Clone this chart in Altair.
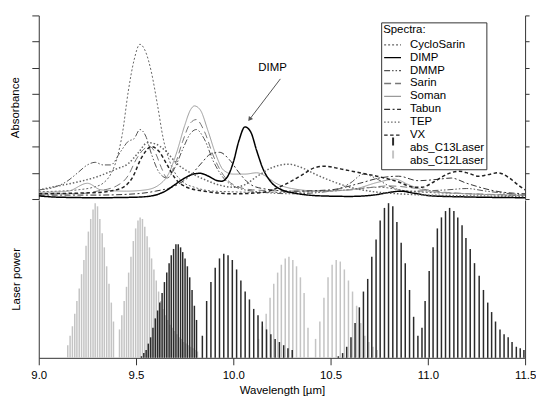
import altair as alt
import pandas as pd

FONT = "Liberation Sans"

SERIES = ["CycloSarin", "DIMP", "DMMP", "Sarin", "Soman", "Tabun", "TEP", "VX"]
LASERS = ["abs_C13Laser", "abs_C12Laser"]
BOLD_SERIES = ["DIMP", "TEP", "VX"]

X_TICKS = [9.0, 9.5, 10.0, 10.5, 11.0, 11.5]
ABS_TICKS = [0, 1, 2, 3, 4, 5, 6, 7]

# ---- absorbance spectra (wavelength in um, absorbance in arbitrary units) ----
CYCLOSARIN_WL = [9.00, 9.10, 9.20, 9.28, 9.33, 9.37, 9.40, 9.43, 9.46, 9.49, 9.52, 9.55, 9.58,
                 9.61, 9.64, 9.67, 9.70, 9.74, 9.80, 9.90, 10.20, 10.50, 10.75, 10.90, 11.20, 11.50]
CYCLOSARIN_ABS = [0.28, 0.30, 0.35, 0.45, 0.60, 0.95, 1.50, 2.50, 4.10, 5.30, 5.90, 5.60, 4.80,
                  3.60, 2.30, 1.50, 1.00, 0.65, 0.45, 0.30, 0.25, 0.30, 0.45, 0.30, 0.20, 0.12]

DIMP_WL = [9.00, 9.10, 9.30, 9.50, 9.58, 9.65, 9.70, 9.75, 9.80, 9.83, 9.87, 9.91, 9.94, 9.97,
           10.00, 10.03, 10.06, 10.09, 10.12, 10.15, 10.20, 10.25, 10.32, 10.45, 10.60, 10.72,
           10.80, 10.86, 10.93, 11.02, 11.20, 11.50]
DIMP_ABS = [0.12, 0.07, 0.05, 0.07, 0.12, 0.30, 0.55, 0.80, 0.96, 0.98, 0.88, 0.72, 0.68, 0.85,
            1.40, 2.25, 2.75, 2.55, 1.85, 1.20, 0.60, 0.35, 0.22, 0.12, 0.10, 0.15,
            0.25, 0.30, 0.22, 0.12, 0.08, 0.05]

DMMP_WL = [9.00, 9.08, 9.15, 9.20, 9.25, 9.29, 9.33, 9.37, 9.42, 9.46, 9.49, 9.52, 9.55, 9.58,
           9.62, 9.66, 9.70, 9.74, 9.78, 9.81, 9.85, 9.90, 9.95, 10.00, 10.10, 10.30, 10.50,
           10.60, 10.67, 10.73, 10.80, 10.90, 11.10, 11.20, 11.30, 11.50]
DMMP_ABS = [0.35, 0.45, 0.70, 1.00, 1.30, 1.40, 1.30, 1.30, 1.80, 2.20, 2.30, 2.65, 2.40, 1.70,
            1.00, 0.80, 1.20, 1.90, 2.50, 2.65, 2.30, 1.40, 0.80, 0.50, 0.30, 0.20, 0.30,
            0.60, 0.95, 0.80, 0.50, 0.30, 0.35, 0.40, 0.30, 0.15]

SARIN_WL = [9.00, 9.20, 9.30, 9.40, 9.46, 9.50, 9.54, 9.57, 9.60, 9.63, 9.66, 9.70, 9.74, 9.78,
            9.81, 9.85, 9.90, 9.95, 10.00, 10.10, 10.30, 10.60, 10.80, 10.95, 11.10, 11.50]
SARIN_ABS = [0.20, 0.20, 0.30, 0.50, 0.90, 1.50, 1.90, 2.00, 1.75, 1.20, 0.80, 1.30, 2.20, 2.90,
             3.03, 2.60, 1.60, 0.90, 0.55, 0.35, 0.30, 0.35, 0.50, 0.40, 0.25, 0.15]

SOMAN_WL = [9.00, 9.15, 9.25, 9.32, 9.45, 9.55, 9.62, 9.67, 9.71, 9.75, 9.78, 9.80, 9.83, 9.87,
            9.91, 9.95, 10.00, 10.06, 10.12, 10.16, 10.22, 10.30, 10.45, 10.60, 10.75, 10.83,
            10.90, 11.00, 11.20, 11.50]
SOMAN_ABS = [0.25, 0.30, 0.60, 0.35, 0.30, 0.35, 0.55, 1.00, 1.80, 2.80, 3.40, 3.55, 3.40, 2.60,
             1.70, 1.10, 0.95, 0.95, 1.00, 0.90, 0.60, 0.40, 0.30, 0.35, 0.65, 0.76,
             0.55, 0.30, 0.20, 0.15]

TABUN_WL = [9.00, 9.30, 9.50, 9.60, 9.70, 9.78, 9.84, 9.88, 9.93, 9.98, 10.03, 10.08, 10.15,
            10.30, 10.50, 10.65, 10.75, 10.85, 10.95, 11.05, 11.12, 11.20, 11.35, 11.50]
TABUN_ABS = [0.15, 0.15, 0.20, 0.30, 0.50, 0.90, 1.40, 1.70, 1.78, 1.50, 1.00, 0.60, 0.40,
             0.30, 0.35, 0.60, 0.80, 0.87, 0.70, 0.75, 0.80, 0.60, 0.30, 0.20]

TEP_WL = [9.00, 9.10, 9.20, 9.30, 9.40, 9.46, 9.51, 9.56, 9.60, 9.65, 9.71, 9.78, 9.85, 9.92,
          10.00, 10.06, 10.12, 10.20, 10.28, 10.35, 10.42, 10.50, 10.60, 10.70, 10.85, 11.00, 11.50]
TEP_ABS = [0.35, 0.50, 0.65, 0.85, 1.15, 1.35, 1.75, 2.15, 2.10, 1.85, 1.35, 1.00, 0.75, 0.55,
           0.45, 0.55, 0.85, 1.20, 1.33, 1.20, 0.95, 0.70, 0.45, 0.30, 0.20, 0.15, 0.10]

VX_WL = [9.00, 9.30, 9.42, 9.48, 9.53, 9.58, 9.62, 9.66, 9.70, 9.76, 9.85, 10.00, 10.15, 10.25,
         10.35, 10.42, 10.47, 10.55, 10.65, 10.75, 10.85, 10.93, 10.97, 11.03, 11.10, 11.16,
         11.21, 11.26, 11.31, 11.36, 11.42, 11.47, 11.50]
VX_ABS = [0.20, 0.25, 0.40, 0.80, 1.60, 2.00, 1.80, 1.30, 0.80, 0.45, 0.30, 0.20, 0.25, 0.50,
          0.90, 1.20, 1.25, 1.15, 1.00, 0.85, 0.65, 0.45, 0.45, 0.65, 0.95, 1.06,
          0.98, 0.87, 0.93, 1.00, 0.80, 0.50, 0.35]

# ---- laser lines (wavelength in um, relative power) ----
C12_WL = [9.149, 9.161, 9.173, 9.185, 9.196, 9.208, 9.220, 9.232, 9.243, 9.255, 9.267, 9.279,
          9.290, 9.302, 9.314, 9.326, 9.337, 9.349, 9.361, 9.373, 9.384,
          9.415, 9.427, 9.439, 9.451, 9.462, 9.474, 9.486, 9.498, 9.510, 9.521, 9.533, 9.545,
          9.557, 9.569, 9.580, 9.592, 9.604, 9.616, 9.627, 9.639, 9.651, 9.663, 9.675, 9.686,
          9.698, 9.710, 9.722, 9.734, 9.745, 9.757, 9.769, 9.781, 9.793, 9.804, 9.816,
          10.130, 10.150, 10.169, 10.189, 10.208, 10.228, 10.247, 10.267, 10.286, 10.306,
          10.325, 10.345, 10.364, 10.384,
          10.423, 10.445, 10.466, 10.487, 10.508, 10.529, 10.550, 10.571, 10.592, 10.613,
          10.634, 10.655, 10.676, 10.697, 10.718, 10.739]
C12_POWER = [0.08, 0.14, 0.20, 0.28, 0.36, 0.44, 0.53, 0.62, 0.71, 0.80, 0.88, 0.94,
             0.98, 0.96, 0.88, 0.79, 0.70, 0.58, 0.47, 0.35, 0.23,
             0.18, 0.27, 0.36, 0.45, 0.54, 0.64, 0.74, 0.82, 0.87, 0.89, 0.88, 0.83,
             0.77, 0.70, 0.63, 0.56, 0.49, 0.42, 0.36, 0.31, 0.27, 0.24, 0.21, 0.19,
             0.17, 0.15, 0.13, 0.12, 0.10, 0.09, 0.08, 0.07, 0.06, 0.05, 0.04,
             0.12, 0.20, 0.28, 0.38, 0.47, 0.54, 0.59, 0.63, 0.64, 0.62,
             0.58, 0.51, 0.41, 0.19,
             0.12, 0.23, 0.38, 0.51, 0.59, 0.62, 0.61, 0.56, 0.49, 0.42,
             0.33, 0.22, 0.14, 0.10, 0.07, 0.05]

C13_WL = [9.528, 9.540, 9.552, 9.563, 9.575, 9.587, 9.599, 9.611, 9.622, 9.634, 9.646, 9.658,
          9.670, 9.681, 9.693, 9.705, 9.717, 9.729, 9.740, 9.752, 9.764, 9.776, 9.788, 9.800, 9.811,
          9.841, 9.863, 9.885, 9.907, 9.929, 9.951, 9.973, 9.995, 10.017, 10.039, 10.061,
          10.083, 10.105, 10.127, 10.149, 10.171, 10.193, 10.215, 10.237, 10.259, 10.281, 10.303,
          10.540, 10.562, 10.583, 10.605, 10.626, 10.648, 10.669, 10.691, 10.712, 10.734,
          10.755, 10.777, 10.798, 10.820, 10.841, 10.863, 10.884, 10.906, 10.927, 10.949,
          10.970, 10.986, 11.007, 11.027, 11.049, 11.070, 11.091, 11.112, 11.134, 11.154,
          11.176, 11.196, 11.218, 11.240, 11.264, 11.286, 11.308, 11.328, 11.348, 11.371,
          11.392, 11.413, 11.433, 11.455, 11.475, 11.494]
C13_POWER = [0.01, 0.03, 0.05, 0.09, 0.13, 0.19, 0.25, 0.30, 0.35, 0.41, 0.48, 0.54,
             0.60, 0.65, 0.69, 0.72, 0.72, 0.70, 0.67, 0.63, 0.58, 0.51, 0.43, 0.33, 0.24,
             0.14, 0.36, 0.48, 0.57, 0.63, 0.66, 0.65, 0.62, 0.56, 0.49, 0.42,
             0.37, 0.31, 0.27, 0.23, 0.18, 0.15, 0.12, 0.10, 0.08, 0.06, 0.05,
             0.01, 0.03, 0.07, 0.13, 0.22, 0.32, 0.42, 0.50, 0.64, 0.75,
             0.87, 0.95, 0.98, 0.96, 0.86, 0.73, 0.60, 0.43, 0.26, 0.14,
             0.19, 0.36, 0.55, 0.70, 0.82, 0.89, 0.93, 0.95, 0.93, 0.89,
             0.84, 0.76, 0.69, 0.60, 0.52, 0.43, 0.35, 0.29, 0.23, 0.18,
             0.15, 0.13, 0.10, 0.07, 0.06, 0.05]

# ---- annotation ----
ARROW_WL = [10.242, 10.084]
ARROW_ABS = [4.58, 3.04]
LABEL_WL = [10.202]
LABEL_ABS = [4.99]
LABEL_TEXT = ["DIMP"]

# ---- styles ----
SERIES_COLORS = ["#666666", "#000000", "#555555", "#777777", "#9a9a9a", "#333333", "#666666",
                 "#222222", "#ffffff", "#ffffff"]
SERIES_DASHES = [[2, 2], [1, 0], [6, 2, 1.5, 2, 1.5, 2], [7, 4], [1, 0], [6, 2.5, 2, 2.5],
                 [1.5, 2], [3.5, 2.5], [0, 100], [0, 100]]
LASER_COLORS = ["#2a2a2a", "#c4c4c4"]

series_data = [
    ("CycloSarin", CYCLOSARIN_WL, CYCLOSARIN_ABS),
    ("DIMP", DIMP_WL, DIMP_ABS),
    ("DMMP", DMMP_WL, DMMP_ABS),
    ("Sarin", SARIN_WL, SARIN_ABS),
    ("Soman", SOMAN_WL, SOMAN_ABS),
    ("Tabun", TABUN_WL, TABUN_ABS),
    ("TEP", TEP_WL, TEP_ABS),
    ("VX", VX_WL, VX_ABS),
]
rows = []
for name, wl, ab in series_data:
    assert len(wl) == len(ab), name
    for w, a in zip(wl, ab):
        rows.append({"series": name, "wl": w, "absorbance": a})
spec_df = pd.DataFrame(rows)
thin_df = spec_df[~spec_df["series"].isin(BOLD_SERIES)]
bold_df = spec_df[spec_df["series"].isin(BOLD_SERIES)]

assert len(C12_WL) == len(C12_POWER)
assert len(C13_WL) == len(C13_POWER)
laser_df = pd.concat([
    pd.DataFrame({"laser": LASERS[1], "wl": C12_WL, "power": C12_POWER}),
    pd.DataFrame({"laser": LASERS[0], "wl": C13_WL, "power": C13_POWER}),
], ignore_index=True)

arrow_df = pd.DataFrame({"wl": ARROW_WL, "absorbance": ARROW_ABS})
head_df = arrow_df.iloc[[1]]
label_df = pd.DataFrame({"wl": LABEL_WL, "absorbance": LABEL_ABS, "label": LABEL_TEXT})

PLOT_W = 490
UPPER_H = 185
LOWER_H = 159
x_scale = alt.Scale(domain=[9.0, 11.5], nice=False, zero=False)
y_abs = alt.Scale(domain=[0, 7], nice=False, zero=False)
y_pow = alt.Scale(domain=[0, 1], nice=False)

LEG_ROW = 12.2
spectra_legend = alt.Legend(
    title="Spectra:", orient="none", legendX=345, legendY=7,
    symbolType="stroke", symbolSize=289, symbolStrokeWidth=1.3,
    clipHeight=LEG_ROW, rowPadding=0, padding=2, labelOffset=8,
    labelFont=FONT, labelFontSize=11.5, labelColor="black",
    titleFont=FONT, titleFontSize=11.5, titleFontWeight="normal", titleColor="black",
    titlePadding=3, fillColor="white", strokeColor="#333333", cornerRadius=0,
)
laser_legend = alt.Legend(
    title=None, orient="none", legendX=352, legendY=121,
    symbolType="M0,-1L0,1", symbolSize=64, symbolStrokeWidth=2,
    clipHeight=LEG_ROW, rowPadding=0, padding=0, labelExpr="''", labelOpacity=0,
    labelFontSize=1,
)
color_enc = alt.Color("series:N", scale=alt.Scale(domain=SERIES + LASERS, range=SERIES_COLORS),
                      legend=spectra_legend)
dash_enc = alt.StrokeDash("series:N", scale=alt.Scale(domain=SERIES + LASERS, range=SERIES_DASHES),
                          legend=spectra_legend)

x_top_axis = alt.Axis(orient="top", values=X_TICKS, labels=False, tickSize=7, title=None)

thin = alt.Chart(thin_df).mark_line(interpolate="monotone", strokeWidth=1, clip=True).encode(
    x=alt.X("wl:Q", scale=x_scale, axis=x_top_axis),
    y=alt.Y("absorbance:Q", scale=y_abs,
            axis=alt.Axis(orient="left", values=ABS_TICKS, labels=False, tickSize=7,
                          title="Absorbance", titlePadding=10.5)),
    color=color_enc, strokeDash=dash_enc,
)
bold = alt.Chart(bold_df).mark_line(interpolate="monotone", strokeWidth=1.5, clip=True).encode(
    x=alt.X("wl:Q", scale=x_scale, axis=None),
    y=alt.Y("absorbance:Q", scale=y_abs, axis=None),
    color=color_enc, strokeDash=dash_enc,
)
# zero-length rules: carry the laser entries of the legend, draw nothing
laser_keys = alt.Chart(laser_df).mark_rule(strokeWidth=2).encode(
    x=alt.X("wl:Q", scale=x_scale, axis=None),
    y=alt.Y("power:Q", scale=y_abs, axis=None),
    y2="power:Q",
    stroke=alt.Stroke("laser:N", scale=alt.Scale(domain=LASERS, range=LASER_COLORS),
                      legend=laser_legend),
)
arrow = alt.Chart(arrow_df).mark_line(color="#555555", strokeWidth=1).encode(
    x=alt.X("wl:Q", scale=x_scale, axis=None),
    y=alt.Y("absorbance:Q", scale=y_abs,
            axis=alt.Axis(orient="right", values=ABS_TICKS, labels=False, tickSize=4, title=None)),
)
head = alt.Chart(head_df).mark_point(shape="triangle-up", filled=True, size=28, color="#555555",
                                     angle=217, opacity=1).encode(
    x=alt.X("wl:Q", scale=x_scale, axis=None),
    y=alt.Y("absorbance:Q", scale=y_abs, axis=None),
)
label = alt.Chart(label_df).mark_text(font=FONT, fontSize=11.5, color="black").encode(
    x=alt.X("wl:Q", scale=x_scale, axis=None),
    y=alt.Y("absorbance:Q", scale=y_abs, axis=None),
    text="label:N",
)
upper = alt.layer(thin, bold, laser_keys, arrow, head, label).resolve_axis(
    y="independent").properties(width=PLOT_W, height=UPPER_H)

x_bottom_axis = alt.Axis(orient="bottom", values=X_TICKS, format=".1f", tickSize=7,
                         labelPadding=5, labelFlush=False, title="Wavelength [µm]",
                         titlePadding=3)
bars = alt.Chart(laser_df).mark_rule(strokeWidth=1.5).encode(
    x=alt.X("wl:Q", scale=x_scale, axis=x_bottom_axis),
    y=alt.Y("power:Q", scale=y_pow,
            axis=alt.Axis(ticks=False, labels=False, title="Laser power", titlePadding=17.5)),
    y2=alt.datum(0),
    color=alt.Color("laser:N", scale=alt.Scale(domain=LASERS, range=LASER_COLORS), legend=None),
)
right = alt.Chart(laser_df).mark_rule(opacity=0).encode(
    x=alt.X("wl:Q", scale=x_scale, axis=x_bottom_axis),
    y=alt.Y("power:Q", scale=y_pow,
            axis=alt.Axis(orient="right", ticks=False, labels=False, title=None)),
    y2=alt.datum(0),
)
lower = alt.layer(bars, right).resolve_axis(y="independent").properties(
    width=PLOT_W, height=LOWER_H)

chart = (
    alt.vconcat(upper, lower, spacing=0)
    .resolve_scale(color="independent", strokeDash="independent", stroke="independent")
    .resolve_legend(color="independent", strokeDash="independent", stroke="independent")
    .properties(padding={"left": 2, "top": 5, "right": 0, "bottom": 0}, background="white")
    .configure_view(stroke=None)
    .configure_axis(domainColor="#333333", tickColor="#333333", domainWidth=1, tickWidth=1,
                    labelFont=FONT, titleFont=FONT, labelFontSize=11.5, titleFontSize=11.5,
                    titleFontWeight="normal", labelColor="black", titleColor="black", grid=False)
)

chart.save("out.html", embed_options={"renderer": "svg", "actions": False})
